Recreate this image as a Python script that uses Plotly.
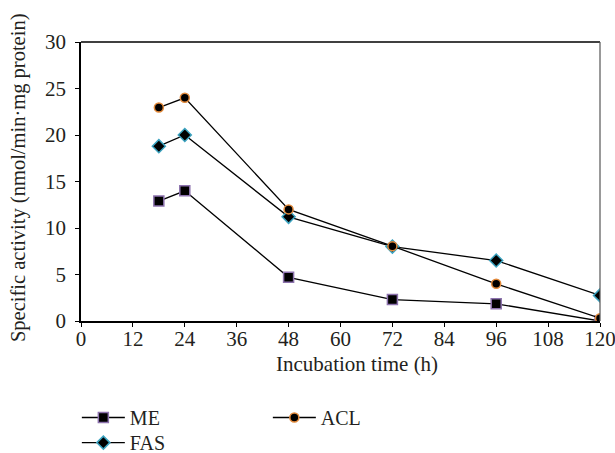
import plotly.graph_objects as go

hours = [18, 24, 48, 72, 96, 120]
me = [12.9, 14.0, 4.7, 2.3, 1.85, 0.0]
fas = [18.8, 20.0, 11.2, 8.0, 6.5, 2.75]
acl = [22.95, 24.0, 12.0, 8.05, 4.0, 0.3]

x_ticks = [0, 12, 24, 36, 48, 60, 72, 84, 96, 108, 120]
y_ticks = [0, 5, 10, 15, 20, 25, 30]

x_title = "Incubation time (h)"
y_title = "Specific activity (nmol/min·mg protein)"

FONT = "Liberation Serif"
TXT = "#231f20"

fig = go.Figure()
fig.add_trace(go.Scatter(
    x=hours, y=me, name="ME", mode="lines+markers",
    line=dict(color="black", width=1.3),
    marker=dict(symbol="square", size=10, color="black",
                line=dict(color="#8c72ad", width=1.5)),
    legend="legend"))
fig.add_trace(go.Scatter(
    x=hours, y=fas, name="FAS", mode="lines+markers",
    line=dict(color="black", width=1.3),
    marker=dict(symbol="diamond", size=10, color="black",
                line=dict(color="#3ba3c0", width=1.5)),
    legend="legend3"))
fig.add_trace(go.Scatter(
    x=hours, y=acl, name="ACL", mode="lines+markers",
    line=dict(color="black", width=1.3),
    marker=dict(symbol="circle", size=9, color="black",
                line=dict(color="#e2893a", width=1.5)),
    legend="legend2"))

leg_common = dict(xanchor="left", yanchor="top", bgcolor="rgba(0,0,0,0)",
                  borderwidth=0, font=dict(family=FONT, size=20, color=TXT),
                  itemwidth=43)

fig.update_layout(
    width=615, height=453,
    margin=dict(l=81, r=15, t=42, b=132, autoexpand=False),
    paper_bgcolor="white", plot_bgcolor="white",
    font=dict(family=FONT, size=21, color=TXT),
    showlegend=True,
    legend=dict(x=-0.008, y=-0.276, **leg_common),
    legend2=dict(x=0.36, y=-0.276, **leg_common),
    legend3=dict(x=-0.008, y=-0.366, **leg_common),
    xaxis=dict(range=[0, 120], tickvals=x_ticks, ticktext=[str(t) for t in x_ticks],
               showgrid=False, zeroline=False, automargin=False,
               showline=True, linecolor="black", linewidth=2,
               ticks="outside", ticklen=4, tickwidth=1, tickcolor="black",
               ticklabelstandoff=-6, ticklabeloverflow="allow",
               tickfont=dict(family=FONT, size=21, color=TXT)),
    yaxis=dict(range=[0, 30], tickvals=y_ticks, ticktext=[str(t) for t in y_ticks],
               showgrid=False, zeroline=False, automargin=False,
               showline=True, linecolor="black", linewidth=1.5,
               ticks="outside", ticklen=4, tickwidth=1, tickcolor="black",
               ticklabelstandoff=5, ticklabeloverflow="allow",
               tickfont=dict(family=FONT, size=21, color=TXT)),
)

fig.add_annotation(text=x_title, xref="paper", yref="paper",
                   x=0.531, y=-0.154, xanchor="center", yanchor="middle",
                   showarrow=False, font=dict(family=FONT, size=21, color=TXT))
fig.add_annotation(text=y_title, xref="paper", yref="paper",
                   x=-0.1214, y=0.516, xanchor="center", yanchor="middle",
                   textangle=-90, showarrow=False,
                   font=dict(family=FONT, size=20.5, color=TXT))

fig.add_shape(type="line", xref="paper", yref="paper", x0=0, x1=1, y0=1, y1=1,
              line=dict(color="black", width=1.5))
fig.add_shape(type="line", xref="paper", yref="paper", x0=1, x1=1, y0=0, y1=1,
              line=dict(color="#555555", width=1.2))

fig.write_html("out.html",
               config={"displayModeBar": False},
               post_script="document.body.style.margin='0';document.body.style.overflow='hidden';")
